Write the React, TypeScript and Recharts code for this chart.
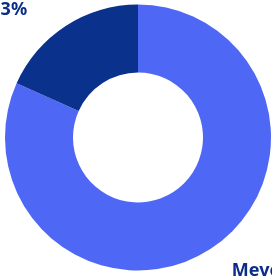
import { Cell, Pie, PieChart } from 'recharts';

const names = ['Mevcut', 'Eksik'];
const values = [81.7, 18.3];
const colors = ['#4f67f5', '#0a318c'];

const data = names.map((name, i) => ({ name, value: values[i] }));

const RADIAN = Math.PI / 180;

function renderLabel(props: any) {
  const { cx, cy, midAngle, outerRadius, name, value } = props;
  const cos = Math.cos(-midAngle * RADIAN);
  const sin = Math.sin(-midAngle * RADIAN);
  const r = outerRadius + 12;
  const x = cx + r * cos + (cos >= 0 ? 15 : -32);
  const y = cy + r * sin + (sin >= 0 ? 17 : -1);
  return (
    <text
      x={x}
      y={y}
      textAnchor={cos >= 0 ? 'start' : 'end'}
      fill="#0b2d8a"
      fontSize={18}
      fontWeight={700}
      fontFamily="'Noto Sans', sans-serif"
    >
      {`${name} ${value.toFixed(1)}%`}
    </text>
  );
}

export default function App() {
  return (
    <div style={{ position: 'fixed', left: 0, top: 0 }}>
      <PieChart width={272} height={276} margin={{ top: 0, right: 0, bottom: 0, left: 0 }}>
        <Pie
          data={data}
          dataKey="value"
          nameKey="name"
          cx={138}
          cy={137.5}
          innerRadius={65}
          outerRadius={133}
          startAngle={90}
          endAngle={-270}
          stroke="none"
          label={renderLabel}
          labelLine={false}
          isAnimationActive={false}
        >
          {data.map((d, i) => (
            <Cell key={d.name} fill={colors[i]} />
          ))}
        </Pie>
      </PieChart>
    </div>
  );
}
